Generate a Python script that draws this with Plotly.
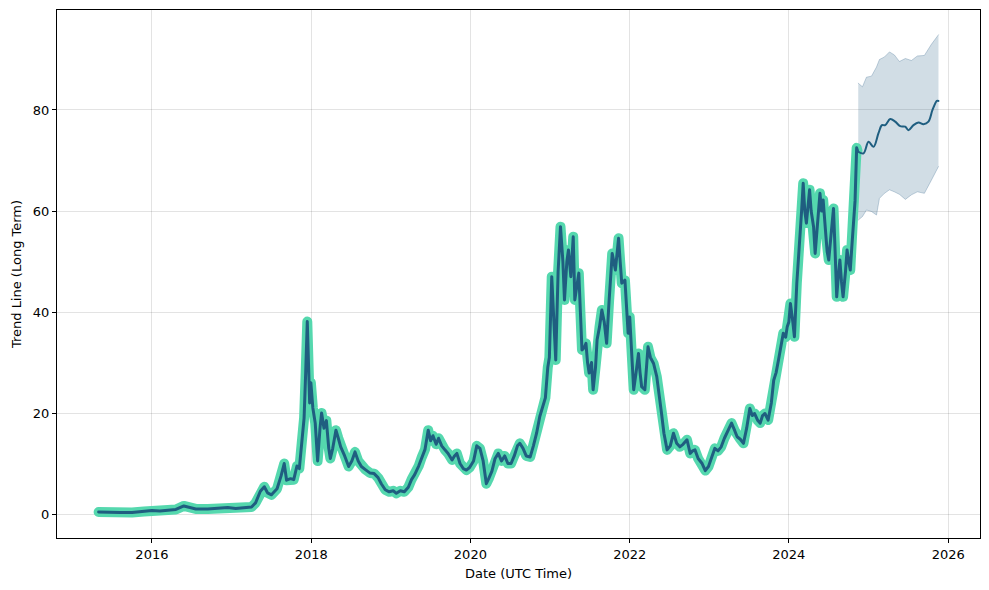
import datetime as dt
import plotly.graph_objects as go

# ---- data (decimal years) ----
hist_year = [
    2015.33, 2015.45, 2015.60, 2015.75, 2015.90, 2016.00, 2016.10, 2016.20, 2016.30, 2016.40,
    2016.45, 2016.55, 2016.70, 2016.85, 2016.95, 2017.05, 2017.15, 2017.25, 2017.30, 2017.36,
    2017.41, 2017.45, 2017.50, 2017.57, 2017.62, 2017.66, 2017.69, 2017.74, 2017.78, 2017.82,
    2017.85, 2017.88, 2017.91, 2017.93, 2017.95, 2017.965, 2017.98, 2017.995, 2018.02, 2018.05,
    2018.08, 2018.11, 2018.13, 2018.16, 2018.19, 2018.22, 2018.24, 2018.27, 2018.31, 2018.34,
    2018.37, 2018.42, 2018.47, 2018.51, 2018.55, 2018.59, 2018.63, 2018.68, 2018.74, 2018.79,
    2018.84, 2018.88, 2018.93, 2018.98, 2019.03, 2019.07, 2019.12, 2019.17, 2019.22, 2019.26,
    2019.30, 2019.35, 2019.39, 2019.43, 2019.47, 2019.50, 2019.53, 2019.57, 2019.60, 2019.64,
    2019.68, 2019.72, 2019.77, 2019.80, 2019.83, 2019.87, 2019.91, 2019.95, 2019.99, 2020.04,
    2020.08, 2020.12, 2020.16, 2020.20, 2020.23, 2020.27, 2020.31, 2020.35, 2020.39, 2020.43,
    2020.47, 2020.51, 2020.55, 2020.59, 2020.62, 2020.66, 2020.70, 2020.75, 2020.79, 2020.83,
    2020.87, 2020.90, 2020.94, 2020.97, 2020.99, 2021.02, 2021.05, 2021.07, 2021.10, 2021.13,
    2021.16, 2021.18, 2021.21, 2021.23, 2021.26, 2021.29, 2021.31, 2021.34, 2021.36, 2021.38,
    2021.40, 2021.43, 2021.45, 2021.47, 2021.49, 2021.52, 2021.54, 2021.57, 2021.59, 2021.62,
    2021.65, 2021.68, 2021.71, 2021.74, 2021.76, 2021.78, 2021.82, 2021.86, 2021.88, 2021.90,
    2021.94, 2021.96, 2021.98, 2022.00, 2022.03, 2022.05, 2022.08, 2022.11, 2022.13, 2022.15,
    2022.19, 2022.21, 2022.23, 2022.26, 2022.30, 2022.34, 2022.37, 2022.40, 2022.43, 2022.47,
    2022.51, 2022.55, 2022.59, 2022.63, 2022.67, 2022.72, 2022.76, 2022.79, 2022.82, 2022.86,
    2022.91, 2022.95, 2022.99, 2023.03, 2023.07, 2023.11, 2023.15, 2023.19, 2023.22, 2023.28,
    2023.32, 2023.35, 2023.39, 2023.43, 2023.47, 2023.51, 2023.54, 2023.57, 2023.61, 2023.64,
    2023.67, 2023.70, 2023.74, 2023.78, 2023.81, 2023.84, 2023.87, 2023.90, 2023.93, 2023.96,
    2023.98, 2024.00, 2024.02, 2024.05, 2024.07, 2024.10, 2024.12, 2024.14, 2024.16, 2024.18,
    2024.20, 2024.22, 2024.24, 2024.26, 2024.28, 2024.31, 2024.33, 2024.36, 2024.39, 2024.41,
    2024.43, 2024.46, 2024.48, 2024.50, 2024.53, 2024.56, 2024.58, 2024.60, 2024.62, 2024.64,
    2024.66, 2024.68, 2024.71, 2024.73, 2024.75, 2024.77, 2024.79, 2024.81, 2024.83, 2024.85,
    2024.86,
]
hist_value = [
    0.4, 0.3, 0.3, 0.3, 0.5, 0.7, 0.6, 0.8, 0.9, 1.6,
    1.4, 1.0, 1.0, 1.1, 1.3, 1.1, 1.3, 1.4, 2.2, 4.5,
    5.4, 4.2, 3.8, 5.0, 7.5, 10.0, 6.7, 7.0, 6.8, 9.5,
    9.0, 14.0, 19.0, 28.0, 38.1, 30.0, 22.0, 26.0, 21.0, 18.0,
    10.5, 17.0, 20.0, 17.0, 18.5, 13.0, 11.0, 13.0, 16.6, 15.0,
    13.3, 11.5, 9.4, 10.5, 12.3, 10.5, 9.4, 8.8, 8.1, 8.0,
    7.2, 6.0, 4.8, 4.4, 4.6, 4.1, 4.6, 4.4, 5.3, 6.8,
    7.8, 9.5, 11.3, 12.8, 16.6, 14.5, 15.5, 13.8, 15.0, 13.5,
    12.7, 12.0, 10.7, 11.5, 12.0, 10.0, 9.0, 8.7, 9.2, 10.5,
    13.5, 13.0, 10.5, 6.0, 7.0, 8.5, 11.0, 12.0, 10.5, 11.5,
    10.0, 10.0, 11.5, 13.5, 14.0, 13.0, 11.5, 11.3, 13.5, 16.0,
    19.3, 21.0, 23.0, 29.0, 31.0, 47.0, 38.0, 30.5, 48.0, 56.9,
    50.0, 42.4, 50.0, 52.3, 47.0, 54.9, 42.4, 46.0, 47.7, 40.0,
    32.5, 33.0, 33.8, 30.0, 27.9, 30.0, 24.6, 29.0, 34.5, 37.0,
    40.4, 38.0, 33.8, 42.0, 48.0, 51.6, 48.3, 54.6, 50.0, 45.7,
    46.3, 40.0, 35.8, 39.0, 30.0, 24.6, 28.0, 31.8, 28.0, 25.2,
    24.6, 29.0, 33.1, 31.0, 29.8, 27.2, 23.0, 19.9, 16.0, 12.7,
    13.5, 16.0, 14.0, 13.3, 13.8, 14.7, 12.0, 12.5, 12.7, 11.0,
    10.0, 8.6, 9.4, 11.0, 13.0, 12.5, 13.3, 15.0, 16.0, 18.0,
    16.5, 15.3, 14.8, 14.0, 17.0, 20.9, 19.5, 19.9, 18.5, 18.0,
    19.5, 19.9, 18.6, 22.0, 26.5, 28.0, 30.5, 33.0, 35.8, 35.0,
    37.1, 38.0, 41.7, 38.0, 35.1, 45.7, 50.0, 55.6, 60.0, 65.5,
    60.0, 57.6, 61.0, 64.2, 60.0, 56.9, 51.6, 58.0, 63.5, 60.0,
    62.2, 56.0, 52.0, 50.3, 55.0, 60.5, 52.0, 43.0, 47.0, 50.3,
    46.0, 43.0, 48.0, 52.3, 50.0, 48.3, 53.0, 57.6, 62.0, 72.5,
    72.0,
]

fc_year = [2024.873, 2024.936, 2024.999, 2025.062, 2025.124, 2025.167, 2025.209, 2025.271,
           2025.334, 2025.397, 2025.460, 2025.501, 2025.564, 2025.627, 2025.690, 2025.752,
           2025.803, 2025.858, 2025.878]
fc_value = [71.7, 71.4, 73.7, 72.7, 75.4, 77.0, 77.0, 78.2,
            77.7, 76.8, 76.7, 76.0, 77.0, 77.5, 77.2, 77.7,
            80.0, 81.8, 81.8]

band_year = [2024.870, 2024.923, 2024.973, 2025.036, 2025.099, 2025.136, 2025.199, 2025.262,
             2025.324, 2025.387, 2025.462, 2025.538, 2025.613, 2025.701, 2025.789, 2025.878]
band_upper = [85.3, 84.6, 86.5, 86.7, 88.5, 90.0, 90.5, 91.5,
              90.9, 89.6, 90.2, 89.8, 90.7, 90.8, 93.0, 94.9]
band_lower = [58.2, 58.9, 60.2, 59.9, 59.2, 62.5, 63.5, 64.2,
              63.8, 63.3, 62.3, 63.2, 63.8, 63.5, 66.1, 68.8]

tick_years = [2016, 2018, 2020, 2022, 2024, 2026]
tick_labels = ["2016", "2018", "2020", "2022", "2024", "2026"]
y_ticks = [0, 20, 40, 60, 80]


def to_date(y):
    year = int(y)
    start = dt.datetime(year, 1, 1)
    end = dt.datetime(year + 1, 1, 1)
    return start + (end - start) * (y - year)


hx = [to_date(v) for v in hist_year]
fx = [to_date(v) for v in fc_year]
bx = [to_date(v) for v in band_year]

GREEN = "#55d8ae"
BLUE = "#1f5e80"
BAND = "rgba(47,98,138,0.22)"
BAND_EDGE = "rgba(47,98,138,0.28)"

fig = go.Figure()
# forecast band
fig.add_trace(go.Scatter(x=bx, y=band_lower, mode="lines",
                         line=dict(color=BAND_EDGE, width=1), showlegend=False,
                         hoverinfo="skip"))
fig.add_trace(go.Scatter(x=bx, y=band_upper, mode="lines", fill="tonexty",
                         fillcolor=BAND, line=dict(color=BAND_EDGE, width=1),
                         showlegend=False, hoverinfo="skip"))
# historical thick green + dark line
fig.add_trace(go.Scatter(x=hx, y=hist_value, mode="lines",
                         line=dict(color=GREEN, width=10), showlegend=False))
fig.add_trace(go.Scatter(x=hx, y=hist_value, mode="lines",
                         line=dict(color=BLUE, width=3), showlegend=False))
# forecast line
fig.add_trace(go.Scatter(x=fx, y=fc_value, mode="lines",
                         line=dict(color=BLUE, width=2, shape="spline"),
                         showlegend=False))

font = dict(family="DejaVu Sans", size=13, color="#000")
fig.update_layout(
    width=981, height=582,
    margin=dict(l=49, r=9, t=2, b=52),
    paper_bgcolor="white", plot_bgcolor="white",
    font=font,
    xaxis=dict(
        type="date", automargin=False,
        range=[to_date(2014.807), to_date(2026.40)],
        tickvals=[to_date(v) for v in tick_years], ticktext=tick_labels,
        showgrid=True, gridcolor="rgba(0,0,0,0.11)", gridwidth=1,
        showline=True, linecolor="black", linewidth=1, mirror=True,
        ticks="outside", ticklen=4, tickcolor="black",
        zeroline=False,
        title=dict(text="Date (UTC Time)", font=font, standoff=8),
    ),
    yaxis=dict(
        automargin=False,
        range=[-4.75, 99.8],
        tickvals=y_ticks,
        showgrid=True, gridcolor="rgba(0,0,0,0.11)", gridwidth=1,
        showline=True, linecolor="black", linewidth=1, mirror=True,
        ticks="outside", ticklen=4, tickcolor="black",
        zeroline=False,
        title=dict(text="Trend Line (Long Term)", font=font, standoff=8),
    ),
)

post = """
var fix = function(){
  document.querySelectorAll('.scatterlayer path.js-line').forEach(function(p){
    p.style.strokeLinejoin = 'round'; p.style.strokeLinecap = 'round';
  });
};
fix();
var gd = document.getElementById('{plot_id}');
if (gd && gd.on) { gd.on('plotly_afterplot', fix); }
"""

fig.write_html("out.html", post_script=post)
